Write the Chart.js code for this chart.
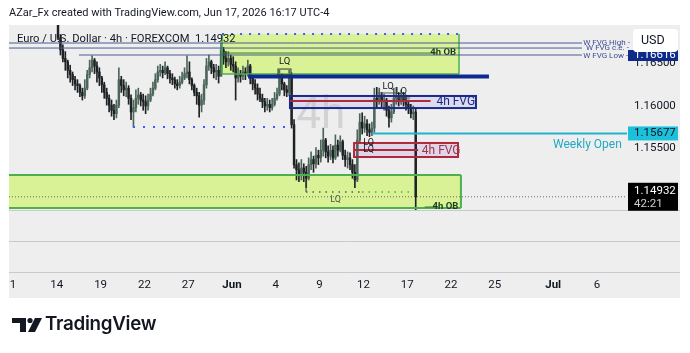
<!DOCTYPE html>
<html>
<head>
<meta charset="utf-8">
<script src="https://cdn.jsdelivr.net/npm/chart.js@4.4.1/dist/chart.umd.min.js"></script>
<style>
  body { margin: 0; background: #fff; width: 690px; height: 353px; overflow: hidden; font-family: Roboto, sans-serif; }
  #title { position: absolute; left: 9px; top: 6px; font-size: 11px; color: #131722; white-space: nowrap; }
  #legend { position: absolute; left: 17px; top: 32px; font-size: 11.2px; color: #131722; white-space: nowrap; }
  #chart { position: absolute; left: 0; top: 0; }
  #logo { position: absolute; left: 10px; top: 314px; }
  #logoText { position: absolute; left: 45px; top: 312px; font-family: Inter, sans-serif; font-weight: 600; font-size: 18.8px; color: #131722; letter-spacing: -0.3px; }
</style>
</head>
<body>
<canvas id="chart" width="690" height="353"></canvas>
<div id="title">AZar_Fx created with TradingView.com, Jun 17, 2026 16:17 UTC-4</div>
<div id="legend">Euro / U.S. Dollar · 4h · FOREXCOM&nbsp; 1.14932</div>
<svg id="logo" width="34" height="22" viewBox="0 0 34 22">
  <polygon points="2,4 16,4 16,18 10,18 10,9 2,9" fill="#131722"/>
  <circle cx="20" cy="6.5" r="2.6" fill="#131722"/>
  <polygon points="25,4 32,4 25,18 18,18" fill="#131722"/>
</svg>
<div id="logoText">TradingView</div>
<script>
// 4h EURUSD bars, first bar = May 14 (trading day 3 counted from May 11)
const firstDay = 3;
const firstOpen = 1.1701;
const closes = [
  1.1680, 1.1666, 1.1656, 1.1652, 1.1642, 1.1637, 1.1631, 1.1626, 1.1624, 1.1616, 1.1612, 1.1621,
  1.1637, 1.1645, 1.1654, 1.1647, 1.1640, 1.1633, 1.1625, 1.1616, 1.1609, 1.1601, 1.1595, 1.1591,
  1.1601, 1.1631, 1.1624, 1.1619, 1.1621, 1.1609, 1.1593, 1.1598, 1.1609, 1.1613, 1.1607, 1.1605,
  1.1600, 1.1607, 1.1614, 1.1621, 1.1631, 1.1640, 1.1642, 1.1639, 1.1645, 1.1638, 1.1633, 1.1631,
  1.1626, 1.1624, 1.1628, 1.1633, 1.1638, 1.1640, 1.1631, 1.1624, 1.1616, 1.1612, 1.1601, 1.1607,
  1.1625, 1.1647, 1.1652, 1.1645, 1.1640, 1.1642, 1.1635, 1.1666, 1.1656, 1.1652, 1.1656, 1.1649,
  1.1647, 1.1633, 1.1638, 1.1635, 1.1640, 1.1638, 1.1647, 1.1633, 1.1626, 1.1621, 1.1614, 1.1609,
  1.1605, 1.1600, 1.1602, 1.1598, 1.1602, 1.1609, 1.1614, 1.1633, 1.1626, 1.1619, 1.1616, 1.1633,
  1.1578, 1.1531, 1.1525, 1.1519, 1.1527, 1.1522, 1.1515, 1.1531, 1.1537, 1.1532, 1.1542, 1.1539,
  1.1548, 1.1560, 1.1546, 1.1541, 1.1548, 1.1539, 1.1554, 1.1548, 1.1558, 1.1542, 1.1537, 1.1539,
  1.1531, 1.1522, 1.1513, 1.1560, 1.1581, 1.1574, 1.1579, 1.1572, 1.1569, 1.1574, 1.1609, 1.1607,
  1.1613, 1.1605, 1.1607, 1.1595, 1.1586, 1.1593, 1.1609, 1.1612, 1.1607, 1.1612, 1.1607, 1.1602,
  1.1598, 1.1591, 1.1593, 1.14932
];
const highs = [
  1.1711, 1.1684, 1.1672, 1.1664, 1.1654, 1.1648, 1.1640, 1.1635, 1.1631, 1.1626, 1.1621, 1.1631,
  1.1642, 1.1654, 1.1659, 1.1656, 1.1652, 1.1645, 1.1635, 1.1628, 1.1621, 1.1613, 1.1607, 1.1602,
  1.1607, 1.1645, 1.1635, 1.1631, 1.1628, 1.1624, 1.1613, 1.1607, 1.1619, 1.1621, 1.1616, 1.1614,
  1.1612, 1.1614, 1.1621, 1.1628, 1.1638, 1.1647, 1.1649, 1.1647, 1.1652, 1.1647, 1.1642, 1.1638,
  1.1634, 1.1631, 1.1635, 1.1640, 1.1645, 1.1659, 1.1652, 1.1633, 1.1626, 1.1621, 1.1616, 1.1614,
  1.1631, 1.1656, 1.1660, 1.1654, 1.1649, 1.1649, 1.1647, 1.1674, 1.1669, 1.1664, 1.1664, 1.1660,
  1.1658, 1.1652, 1.1645, 1.1642, 1.1647, 1.1645, 1.1654, 1.1649, 1.1635, 1.1631, 1.1626, 1.1621,
  1.1614, 1.1609, 1.1609, 1.1607, 1.1609, 1.1616, 1.1621, 1.1642, 1.1638, 1.1628, 1.1624, 1.1642,
  1.1639, 1.1584, 1.1537, 1.1533, 1.1537, 1.1532, 1.1529, 1.1539, 1.1546, 1.1541, 1.1551, 1.1548,
  1.1560, 1.1574, 1.1562, 1.1553, 1.1555, 1.1553, 1.1566, 1.1560, 1.1565, 1.1560, 1.1548, 1.1546,
  1.1545, 1.1537, 1.1531, 1.1572, 1.1591, 1.1592, 1.1588, 1.1584, 1.1579, 1.1581, 1.1621, 1.1622,
  1.1621, 1.1616, 1.1614, 1.1609, 1.1600, 1.1602, 1.1621, 1.1622, 1.1616, 1.1619, 1.1616, 1.1612,
  1.1607, 1.1602, 1.1600, 1.1598
];
const lows = [
  1.1678, 1.1660, 1.1652, 1.1642, 1.1633, 1.1628, 1.1624, 1.1619, 1.1616, 1.1611, 1.1607, 1.1609,
  1.1619, 1.1633, 1.1640, 1.1638, 1.1628, 1.1624, 1.1616, 1.1609, 1.1601, 1.1593, 1.1588, 1.1584,
  1.1586, 1.1598, 1.1616, 1.1612, 1.1611, 1.1602, 1.1584, 1.1575, 1.1593, 1.1602, 1.1600, 1.1595,
  1.1591, 1.1595, 1.1605, 1.1612, 1.1619, 1.1628, 1.1635, 1.1633, 1.1637, 1.1632, 1.1627, 1.1625,
  1.1621, 1.1619, 1.1621, 1.1626, 1.1631, 1.1633, 1.1626, 1.1619, 1.1612, 1.1602, 1.1587, 1.1593,
  1.1602, 1.1621, 1.1642, 1.1638, 1.1633, 1.1631, 1.1627, 1.1635, 1.1649, 1.1645, 1.1647, 1.1642,
  1.1640, 1.1607, 1.1628, 1.1628, 1.1631, 1.1631, 1.1635, 1.1626, 1.1619, 1.1614, 1.1607, 1.1605,
  1.1598, 1.1593, 1.1595, 1.1593, 1.1595, 1.1600, 1.1607, 1.1612, 1.1619, 1.1612, 1.1611, 1.1612,
  1.1574, 1.1527, 1.1513, 1.1511, 1.1513, 1.1511, 1.1504, 1.1513, 1.1525, 1.1522, 1.1527, 1.1531,
  1.1534, 1.1541, 1.1539, 1.1534, 1.1537, 1.1533, 1.1537, 1.1541, 1.1546, 1.1537, 1.1529, 1.1527,
  1.1525, 1.1515, 1.1504, 1.1511, 1.1558, 1.1567, 1.1569, 1.1565, 1.1564, 1.1565, 1.1569, 1.1598,
  1.1602, 1.1598, 1.1595, 1.1588, 1.1575, 1.1581, 1.1591, 1.1602, 1.1600, 1.1602, 1.1600, 1.1595,
  1.1591, 1.1586, 1.1584, 1.1477
];

// x axis: trading days counted from May 11
const tickDays = [0, 3, 6, 9, 12, 15, 18, 21, 24, 27, 30, 33, 37, 40];
const tickLabels = ['1', '14', '19', '22', '27', 'Jun', '4', '9', '12', '17', '22', '25', 'Jul', '6'];
const priceTicks = [1.155, 1.16, 1.165];

const lastPrice = 1.14932;
const weeklyOpen = 1.15677;
const wfvg = { high: 1.16741, ce: 1.16682, low: 1.16600 };

const UP = '#4d665a', DOWN = '#1f2225';

const opens = closes.map((c, i) => i === 0 ? firstOpen : closes[i - 1]);
const barX = closes.map((c, i) => firstDay + (i + 0.5) / 6);
const colors = closes.map((c, i) => c >= opens[i] ? UP : DOWN);
const bodies = closes.map((c, i) => ({ x: barX[i], y: [opens[i], c] }));
const wicks = closes.map((c, i) => ({
  x: barX[i],
  y: [Math.min(lows[i], opens[i], c), Math.max(highs[i], opens[i], c)]
}));

function line(g, x1, y1, x2, y2, color, w, dash) {
  g.save();
  g.strokeStyle = color; g.lineWidth = w;
  if (dash) g.setLineDash(dash);
  g.beginPath(); g.moveTo(x1, y1); g.lineTo(x2, y2); g.stroke();
  g.restore();
}
function text(g, s, x, y, color, font, align) {
  g.save();
  g.fillStyle = color; g.font = font; g.textAlign = align || 'left'; g.textBaseline = 'middle';
  g.fillText(s, x, y);
  g.restore();
}

const drawings = {
  id: 'drawings',
  beforeDraw(c) {
    const g = c.ctx;
    g.save();
    g.fillStyle = '#eeeeee';
    g.fillRect(9, 25, 671, 273);
    g.restore();
  },
  beforeDatasetsDraw(c) {
    const g = c.ctx, x = c.scales.x, y = c.scales.y, a = c.chartArea;
    const X = d => x.getPixelForValue(d), Y = p => y.getPixelForValue(p);
    g.save();
    // top 4h OB
    g.fillStyle = 'rgba(214,242,140,0.9)';
    g.fillRect(X(14.32), Y(1.16847), X(30.55) - X(14.32), Y(1.16376) - Y(1.16847));
    // bottom 4h OB
    g.fillRect(a.left, Y(1.15188), X(30.68) - a.left, Y(1.14800) - Y(1.15188));
    // FVG fills
    g.fillStyle = 'rgba(206,204,236,0.55)';
    g.fillRect(X(18.97), Y(1.16118), X(31.71) - X(18.97), Y(1.15976) - Y(1.16118));
    g.fillStyle = 'rgba(214,200,230,0.6)';
    g.fillRect(X(23.36), Y(1.15565), X(30.48) - X(23.36), Y(1.15400) - Y(1.15565));
    // watermark
    text(g, '4h', X(19.4), Y(1.15867), 'rgba(190,190,190,0.55)', '44px Roboto');
    g.restore();
  },
  afterDatasetsDraw(c) {
    const g = c.ctx, x = c.scales.x, y = c.scales.y, a = c.chartArea;
    const X = d => x.getPixelForValue(d), Y = p => y.getPixelForValue(p);
    const green = '#4caf50', navy = '#1a2a8c', slate = '#4a5b92', red = '#b0283c';

    // top OB borders
    const t1 = X(14.32), t2 = X(30.55), ty1 = Y(1.16847), ty2 = Y(1.16376);
    line(g, t1, ty1, t1, ty2, green, 1.5);
    line(g, t2, ty1, t2, ty2, green, 1.5);
    line(g, t1, ty2, t2, ty2, green, 1.5);
    line(g, t1, ty1, t2, ty1, '#3d5afe', 2, [2, 7]);
    line(g, t1, Y(1.16623), X(29.0), Y(1.16623), '#2e7d32', 1);
    text(g, '4h OB', X(30.35), Y(1.16623), '#1b3a1c', 'bold 9.5px Roboto', 'right');

    // W FVG levels
    line(g, a.left, Y(wfvg.high), X(38.97), Y(wfvg.high), slate, 1);
    line(g, a.left, Y(wfvg.ce), X(38.97), Y(wfvg.ce), slate, 1);
    line(g, X(4.52), Y(wfvg.low), X(38.97), Y(wfvg.low), slate, 1);
    text(g, 'W FVG High -', X(39.05), Y(wfvg.high) - 0.5, '#3c4d96', '8px Roboto');
    text(g, 'W FVG c.e. -', X(39.25), Y(wfvg.ce), '#3c4d96', '8px Roboto');
    text(g, 'W FVG Low -', X(39.05), Y(wfvg.low) + 0.5, '#3c4d96', '8px Roboto');

    // thick navy level
    line(g, X(16.1), Y(1.16347), X(32.6), Y(1.16347), '#0f2a8f', 4);

    // LQ marker top
    g.save(); g.strokeStyle = '#333'; g.lineWidth = 1;
    g.strokeRect(X(18.15), Y(1.16435), X(19.04) - X(18.15), Y(1.16365) - Y(1.16435));
    g.restore();
    text(g, 'LQ', X(18.6), Y(1.16435) - 7, '#131722', '9.5px Roboto', 'center');

    // blue 4h FVG
    const b1 = X(18.97), b2 = X(31.71), by1 = Y(1.16118), by2 = Y(1.15976);
    g.save(); g.strokeStyle = navy; g.lineWidth = 2;
    g.strokeRect(b1, by1, b2 - b1, by2 - by1); g.restore();
    line(g, b1, Y(1.16059), X(28.6), Y(1.16059), red, 2);
    text(g, '4h FVG', X(29.0), Y(1.16047), navy, '12px Roboto');

    // swing low dotted
    line(g, X(8.22), Y(1.15753), X(18.97), Y(1.15753), '#3d5afe', 2, [2, 8]);

    // red 4h FVG
    const r1 = X(23.36), r2 = X(30.48), ry1 = Y(1.15565), ry2 = Y(1.15400);
    g.save(); g.strokeStyle = red; g.lineWidth = 2;
    g.strokeRect(r1, ry1, r2 - r1, ry2 - ry1); g.restore();
    line(g, r1, Y(1.15482), X(27.75), Y(1.15482), red, 2);
    text(g, '4h FVG', X(28.0), Y(1.15472), '#a3334a', '12px Roboto');
    text(g, 'LQ', X(24.35), Y(1.15565), '#131722', '9px Roboto', 'center');
    text(g, 'LQ', X(24.35), Y(1.15482), '#131722', '9px Roboto', 'center');

    // LQ labels near the top of the last rally
    text(g, 'LQ', X(25.7), Y(1.16212) - 1, '#131722', '9.5px Roboto', 'center');
    text(g, 'LQ', X(26.6), Y(1.16153) - 1, '#131722', '9.5px Roboto', 'center');
    line(g, X(24.95), Y(1.16153), X(26.3), Y(1.16153), '#555', 1);
    line(g, X(26.3), Y(1.16094), X(27.2), Y(1.16094), '#555', 1);

    // weekly open
    line(g, X(24.59), Y(weeklyOpen), a.right, Y(weeklyOpen), '#1fb3cc', 2);
    text(g, 'Weekly Open', X(41.7), Y(weeklyOpen) + 12, '#22a9c4', '12px Roboto', 'right');

    // bottom OB borders
    const o2 = X(30.68), oy1 = Y(1.15188), oy2 = Y(1.14800);
    line(g, a.left, oy1, o2, oy1, green, 2);
    line(g, a.left, oy2, o2, oy2, green, 2);
    line(g, o2, oy1, o2, oy2, green, 2);
    line(g, X(28.2), oy2 - 1, X(28.9), oy2 - 1, '#2e7d32', 1);
    text(g, '4h OB', X(30.5), oy2 - 1, '#1b3a1c', 'bold 9.5px Roboto', 'right');

    // current price dotted
    line(g, a.left, Y(lastPrice), a.right, Y(lastPrice), '#6b6b5a', 1, [1, 2]);

    // bottom LQ
    line(g, X(20.07), Y(1.15129), X(20.07), Y(1.14988), '#444', 1);
    line(g, X(20.07), Y(1.14988), X(23.9), Y(1.14988), '#555', 1.5, [1.5, 5]);
    line(g, X(23.9), Y(1.14988), X(27.5), Y(1.14988), '#4caf50', 1.5, [1.5, 5]);
    text(g, 'LQ', X(22.1), Y(1.14988) + 8, '#555', '9px Roboto', 'center');

    // pane separators
    line(g, 9, 210.5, 680, 210.5, '#c9c9c9', 1);
    line(g, 9, 241.5, 680, 241.5, '#c9c9c9', 1);
    line(g, 9, 272.5, 680, 272.5, '#c9c9c9', 1);
  },
  afterDraw(c) {
    const g = c.ctx, y = c.scales.y;
    const Y = p => y.getPixelForValue(p);
    g.save();
    // navy label (mostly hidden)
    g.fillStyle = '#0d2a8a';
    g.fillRect(628, 50, 50, 11);
    text(g, '1.16616', 634, 55, '#fff', '11.5px Roboto');
    // USD box
    g.fillStyle = '#fff';
    g.beginPath(); g.roundRect(633, 29, 45, 23, 4); g.fill();
    text(g, 'USD', 641, 41, '#131722', '12.5px Roboto');
    // weekly open label
    g.fillStyle = '#1cc0da';
    g.fillRect(628, Y(weeklyOpen) - 7, 50, 14);
    text(g, weeklyOpen.toFixed(5), 634, Y(weeklyOpen), '#131722', '11.5px Roboto');
    // last price label
    g.fillStyle = '#000';
    g.fillRect(628, Y(lastPrice) - 14, 50, 28);
    text(g, lastPrice.toFixed(5), 634, Y(lastPrice) - 6, '#fff', '11.5px Roboto');
    text(g, '42:21', 634, Y(lastPrice) + 7, '#d0d0d0', '11.5px Roboto');
    g.restore();
  }
};

function tickFont(ctx) {
  const v = ctx.tick ? ctx.tick.value : null;
  const lab = tickLabels[tickDays.indexOf(v)] || '';
  return { family: 'Roboto', size: 11.5, weight: /^[A-Z]/.test(lab) ? 'bold' : 'normal' };
}

const ctx = document.getElementById('chart').getContext('2d');
new Chart(ctx, {
  type: 'bar',
  data: {
    datasets: [
      { data: wicks, backgroundColor: colors, barThickness: 1, grouped: false, minBarLength: 1 },
      { data: bodies, backgroundColor: colors, barThickness: 1.8, grouped: false, minBarLength: 1 }
    ]
  },
  options: {
    responsive: false,
    animation: false,
    layout: { padding: { left: 9, top: 25, right: 10, bottom: 55 } },
    plugins: { legend: { display: false }, tooltip: { enabled: false } },
    scales: {
      x: {
        type: 'linear',
        offset: false,
        min: -0.27397,
        max: 42.0548,
        grid: { display: false, drawTicks: false },
        border: { display: false },
        afterBuildTicks: s => { s.ticks = tickDays.map(v => ({ value: v })); },
        afterFit: s => { s.height = 26; },
        ticks: {
          autoSkip: false,
          maxRotation: 0,
          padding: 6,
          color: '#131722',
          font: tickFont,
          callback: v => tickLabels[tickDays.indexOf(v)]
        }
      },
      y: {
        position: 'right',
        min: 1.140471,
        max: 1.169530,
        grid: { display: false, drawTicks: false },
        border: { display: false },
        afterBuildTicks: s => { s.ticks = priceTicks.map(v => ({ value: v })); },
        afterFit: s => { s.width = 53; },
        ticks: {
          padding: 7,
          color: '#131722',
          font: { family: 'Roboto', size: 11.5 },
          callback: v => v.toFixed(5)
        }
      }
    }
  },
  plugins: [drawings]
});
</script>
</body>
</html>
